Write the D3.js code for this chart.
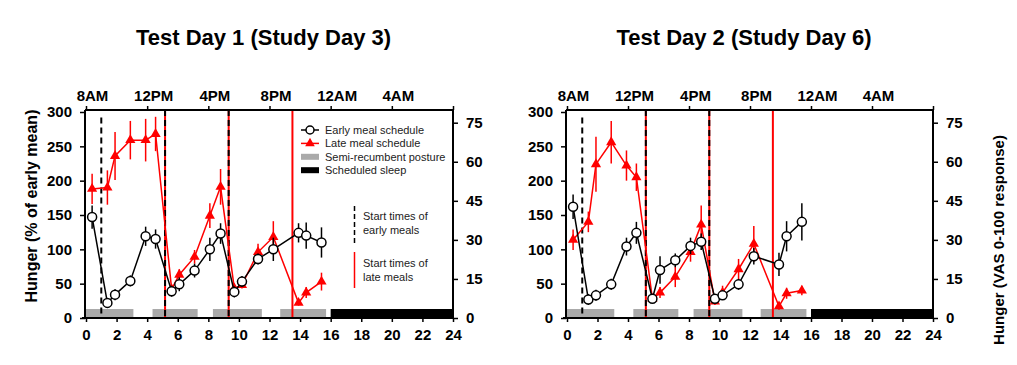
<!DOCTYPE html>
<html>
<head>
<meta charset="utf-8">
<script src="https://cdn.jsdelivr.net/npm/d3@7"></script>
<style>
  body { margin: 0; background: #fff; }
  svg { font-family: 'Liberation Sans', Arial, sans-serif; }
</style>
</head>
<body>
<svg id="chart" width="1017" height="365"></svg>
<script>
// hours since 8AM at which hunger was sampled
const sampleHours = [0.4, 1.4, 1.9, 2.9, 3.9, 4.55, 5.6, 6.1, 7.1, 8.1, 8.8, 9.7, 10.2, 11.25, 12.25, 13.9, 14.4, 15.4]

// Test Day 1 (Study Day 3)
const day1Early = [147, 22, 34, 54, 119, 115, 39, 49, 69, 100, 123, 38, 53, 86, 100, 124, 120, 110]
const day1EarlyErr = [17, 5, 8, 8, 14, 14, 8, 10, 10, 17, 15, 8, 8, 8, 17, 14, 19, 22]
const day1Late = [188, 190, 236, 259, 259, 268, 42, 63, 89, 149, 191, 43, 48, 96, 118, 22, 37, 53]
const day1LateErr = [22, 25, 35, 28, 31, 25, 5, 8, 10, 18, 26, 5, 5, 12, 23, 4, 8, 13]

// Test Day 2 (Study Day 6)
const day2Early = [162, 27, 33, 49, 104, 124, 28, 70, 84, 105, 111, 28, 33, 49, 90, 78, 119, 140]
const day2EarlyErr = [18, 8, 8, 8, 13, 16, 6, 20, 10, 12, 12, 5, 6, 8, 12, 17, 22, 27]
const day2Late = [114, 140, 224, 256, 222, 205, 28, 37, 60, 96, 136, 24, 37, 71, 108, 17, 36, 40]
const day2LateErr = [15, 15, 40, 31, 22, 20, 5, 8, 15, 14, 28, 5, 10, 15, 26, 5, 8, 7]

const earlyMealStarts = [1, 5.17, 9.33]
const lateMealStarts = [5.17, 9.33, 13.5]
const postureBlocks = [[0, 3.1], [4.35, 7.3], [8.3, 11.5], [12.7, 15.7]]
const sleepBlocks = [[16, 24]]

const hourTicks = [0, 2, 4, 6, 8, 10, 12, 14, 16, 18, 20, 22, 24]
const clockTicks = [0, 4, 8, 12, 16, 20, 24]
const clockLabels = ['8AM', '12PM', '4PM', '8PM', '12AM', '4AM', '']
const pctTicks = [0, 50, 100, 150, 200, 250, 300]
const vasTicks = [0, 15, 30, 45, 60, 75]

const legendLabels = ['Early meal schedule', 'Late meal schedule', 'Semi-recumbent posture', 'Scheduled sleep']

const RED = '#ff0000'
const GREY = '#aaaaaa'

const svg = d3.select('#chart')

const plotTop = 110
const plotBottom = 318

panel({
  left: 86, right: 453,
  title: 'Test Day 1 (Study Day 3)',
  early: day1Early, earlyErr: day1EarlyErr,
  late: day1Late, lateErr: day1LateErr,
  legend: true, leftLabel: true, rightLabel: false
})

panel({
  left: 567, right: 933,
  title: 'Test Day 2 (Study Day 6)',
  early: day2Early, earlyErr: day2EarlyErr,
  late: day2Late, lateErr: day2LateErr,
  legend: false, leftLabel: false, rightLabel: true
})

function panel(p) {
  const g = svg.append('g')

  const x = d3.scaleLinear().domain([0, 24]).range([p.left, p.right])
  const yL = d3.scaleLinear().domain([0, 300]).range([plotBottom, 112])
  const yR = d3.scaleLinear().domain([0, 75]).range([plotBottom, 122.7])

  // posture / sleep blocks
  const blockH = 9
  g.selectAll('rect.posture').data(postureBlocks).enter().append('rect')
    .attr('x', d => x(d[0]))
    .attr('width', d => x(d[1]) - x(d[0]))
    .attr('y', plotBottom - blockH)
    .attr('height', blockH)
    .attr('fill', GREY)

  g.selectAll('rect.sleep').data(sleepBlocks).enter().append('rect')
    .attr('x', d => x(d[0]))
    .attr('width', d => x(d[1]) - x(d[0]))
    .attr('y', plotBottom - blockH)
    .attr('height', blockH)
    .attr('fill', '#000')

  // meal start lines: red solid under black dashed
  lateMealStarts.forEach(h => {
    g.append('line')
      .attr('x1', x(h)).attr('x2', x(h))
      .attr('y1', plotTop).attr('y2', plotBottom)
      .attr('stroke', RED).attr('stroke-width', 2)
  })
  earlyMealStarts.forEach((h, i) => {
    g.append('line')
      .attr('x1', x(h)).attr('x2', x(h))
      .attr('y1', i === 0 ? yL(292) : plotTop).attr('y2', plotBottom)
      .attr('stroke', '#000').attr('stroke-width', 2)
      .attr('stroke-dasharray', '6,4')
  })

  // axes
  const axisBottom = d3.axisBottom(x).tickValues(hourTicks).tickSize(4).tickSizeOuter(0).tickPadding(7)
  const axisTop = d3.axisTop(x).tickValues(clockTicks).tickSize(4).tickSizeOuter(0).tickPadding(5)
    .tickFormat((d, i) => clockLabels[i])
  const axisLeft = d3.axisLeft(yL).tickValues(pctTicks).tickSize(5).tickSizeOuter(0).tickPadding(8)
  const axisRight = d3.axisRight(yR).tickValues(vasTicks).tickSize(5).tickSizeOuter(0).tickPadding(8)

  const ab = g.append('g').attr('transform', `translate(0,${plotBottom})`).call(axisBottom)
  const at = g.append('g').attr('transform', `translate(0,${plotTop})`).call(axisTop)
  const al = g.append('g').attr('transform', `translate(${p.left - 1},0)`).call(axisLeft)
  const ar = g.append('g').attr('transform', `translate(${p.right},0)`).call(axisRight)

  ;[ab, at, al, ar].forEach(a => {
    a.select('.domain').remove()
    a.selectAll('line').attr('stroke', '#000').attr('stroke-width', 1.5)
    a.selectAll('text')
      .attr('fill', '#000')
      .style('font-size', '15px')
      .style('font-weight', 'bold')
      .style('font-family', "'Liberation Sans', Arial, sans-serif")
  })
  at.selectAll('text').attr('dx', 6)

  // frame
  const frame = [
    [p.left - 4, plotBottom, p.right + 1, plotBottom],
    [p.left - 1, plotTop, p.right + 1, plotTop],
    [p.left - 1, plotTop, p.left - 1, plotBottom + 1],
    [p.right, plotTop, p.right, plotBottom + 1]
  ]
  g.selectAll('line.frame').data(frame).enter().append('line')
    .attr('x1', d => d[0]).attr('y1', d => d[1])
    .attr('x2', d => d[2]).attr('y2', d => d[3])
    .attr('stroke', '#000').attr('stroke-width', 2)

  const line = d3.line().x((d, i) => x(sampleHours[i])).y(d => yL(d))

  // late meal series (red triangles)
  series(g, p.late, p.lateErr, RED, line, x, yL, 'late')
  // early meal series (open circles)
  series(g, p.early, p.earlyErr, '#000', line, x, yL, 'early')

  // title
  svg.append('text')
    .attr('x', (p.left + p.right) / 2 - 6)
    .attr('y', 45)
    .attr('text-anchor', 'middle')
    .style('font-size', '22px')
    .style('font-weight', 'bold')
    .text(p.title)

  if (p.leftLabel) {
    svg.append('text')
      .attr('transform', 'translate(37,206) rotate(-90)')
      .attr('text-anchor', 'middle')
      .style('font-size', '16px')
      .style('font-weight', 'bold')
      .text('Hunger (% of early mean)')
  }
  if (p.rightLabel) {
    svg.append('text')
      .attr('transform', 'translate(1004,240) rotate(-90)')
      .attr('text-anchor', 'middle')
      .style('font-size', '15px')
      .style('font-weight', 'bold')
      .text('Hunger (VAS 0-100 response)')
  }

  if (p.legend) legend(g)
}

function series(g, values, errs, color, line, x, y, kind) {
  const pts = values.map((v, i) => ({ h: sampleHours[i], v, e: errs[i] }))

  g.selectAll(`line.err-${kind}`).data(pts).enter().append('line')
    .attr('x1', d => x(d.h)).attr('x2', d => x(d.h))
    .attr('y1', d => y(d.v - d.e)).attr('y2', d => y(d.v + d.e))
    .attr('stroke', color).attr('stroke-width', 1.5)

  g.append('path')
    .datum(values)
    .attr('d', line)
    .attr('fill', 'none')
    .attr('stroke', color)
    .attr('stroke-width', 1.5)

  if (kind === 'late') {
    g.selectAll('path.tri').data(pts).enter().append('path')
      .attr('d', d3.symbol(d3.symbolTriangle, 45))
      .attr('transform', d => `translate(${x(d.h)},${y(d.v)})`)
      .attr('fill', color)
  } else {
    g.selectAll('circle.pt').data(pts).enter().append('circle')
      .attr('cx', d => x(d.h)).attr('cy', d => y(d.v))
      .attr('r', 4.5)
      .attr('fill', '#fff')
      .attr('stroke', color)
      .attr('stroke-width', 1.5)
  }
}

function legend(g) {
  const lx = 301, lw = 18, tx = 325
  const rowY = [130, 143.4, 156.8, 170.2]
  const fs = '11px'

  // early
  g.append('line').attr('x1', lx).attr('x2', lx + lw).attr('y1', rowY[0]).attr('y2', rowY[0])
    .attr('stroke', '#000').attr('stroke-width', 1.5)
  g.append('circle').attr('cx', lx + lw / 2).attr('cy', rowY[0]).attr('r', 4)
    .attr('fill', '#fff').attr('stroke', '#000').attr('stroke-width', 1.5)
  // late
  g.append('line').attr('x1', lx).attr('x2', lx + lw).attr('y1', rowY[1]).attr('y2', rowY[1])
    .attr('stroke', RED).attr('stroke-width', 1.5)
  g.append('path').attr('d', d3.symbol(d3.symbolTriangle, 40))
    .attr('transform', `translate(${lx + lw / 2},${rowY[1]})`).attr('fill', RED)
  // posture + sleep
  g.append('rect').attr('x', lx).attr('y', rowY[2] - 3).attr('width', lw).attr('height', 6).attr('fill', GREY)
  g.append('rect').attr('x', lx).attr('y', rowY[3] - 3).attr('width', lw).attr('height', 6).attr('fill', '#000')

  g.selectAll('text.leg').data(legendLabels).enter().append('text')
    .attr('x', tx)
    .attr('y', (d, i) => rowY[i] + 4)
    .attr('fill', '#222')
    .style('font-size', fs)
    .text(d => d)

  // meal start key
  const kx = 354.5
  g.append('line').attr('x1', kx).attr('x2', kx).attr('y1', 206).attr('y2', 243)
    .attr('stroke', '#000').attr('stroke-width', 1.5).attr('stroke-dasharray', '5,3')
  g.append('line').attr('x1', kx).attr('x2', kx).attr('y1', 252).attr('y2', 288)
    .attr('stroke', RED).attr('stroke-width', 1.5)

  const notes = [['Start times of', 220], ['early meals', 233.5], ['Start times of', 267], ['late meals', 281]]
  g.selectAll('text.note').data(notes).enter().append('text')
    .attr('x', 363)
    .attr('y', d => d[1])
    .attr('fill', '#222')
    .style('font-size', fs)
    .text(d => d[0])
}
</script>
</body>
</html>
